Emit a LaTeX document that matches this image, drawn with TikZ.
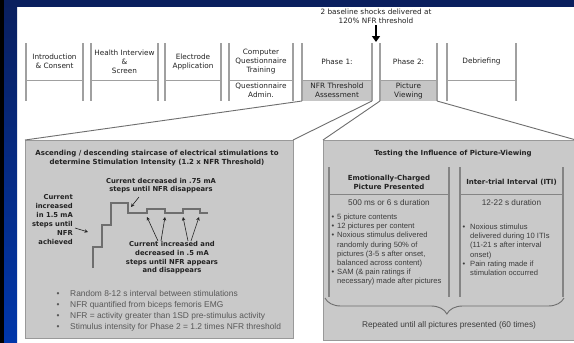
\documentclass[tikz,border=0pt]{standalone}
\usepackage{fontspec}
\setmainfont{DejaVu Sans}
\newfontfamily\arialf{Liberation Sans}
\usetikzlibrary{arrows.meta,decorations.pathreplacing}
\definecolor{navy}{HTML}{0A1F5E}
\definecolor{slideblue}{HTML}{0036AA}
\definecolor{panelgray}{HTML}{C9C9C9}
\definecolor{cellgray}{HTML}{C6C6C6}
\definecolor{linegray}{HTML}{A0A0A0}
\definecolor{darkline}{HTML}{6E6E6E}
\definecolor{txt}{HTML}{222222}
\definecolor{bultxt}{HTML}{585858}
\definecolor{regtxt}{HTML}{3C3C3C}
\newcommand\bl[1]{\makebox[#1][l]{•}}
\begin{document}
\begin{tikzpicture}[x=1pt,y=-1pt,
  cell/.style={inner sep=0pt,outer sep=0pt,draw=none,align=center,
    font=\fontsize{7.3}{9}\selectfont,text=txt},
  toptxt/.style={inner sep=0pt,align=center,font=\fontsize{7.3}{9}\selectfont,text=txt},
  vline/.style={draw=linegray,line width=1.4pt},
  hline/.style={draw=linegray,line width=1pt},
  panel/.style={fill=panelgray,draw=darkline!70,line width=0.7pt,inner sep=0pt,outer sep=0pt},
  callout/.style={draw=darkline,line width=0.9pt},
  boldtxt/.style={inner sep=0pt,align=center,font=\fontsize{7}{9}\selectfont\bfseries,text=txt},
  bultext/.style={inner sep=0pt,anchor=base west,text=bultxt},
  regtext/.style={inner sep=0pt,align=center,text=regtxt,font=\arialf\fontsize{8.2}{10}\selectfont},
  stair/.style={draw=darkline,line width=1.2pt},
  smallarrow/.style={draw=txt,line width=0.6pt,-{Stealth[length=3.5pt,width=3.5pt]}},
  bigarrow/.style={draw=black,line width=2.2pt,-{Triangle[length=6pt,width=8pt]}},
  subline/.style={draw=darkline!85,line width=1.3pt},
  bracestyle/.style={draw=darkline,line width=0.9pt,decorate,
    decoration={brace,mirror,amplitude=16pt,aspect=0.51}}
]
\useasboundingbox (0,0) rectangle (574,343);
% slide background
\fill[white] (0,0) rectangle (574,343);
\shade[top color=navy,bottom color=slideblue] (4,0) rectangle (17,343);
\fill[navy] (0,0) rectangle (574,7);
\fill[black] (0,0) rectangle (4,343);

% timeline cells
\node[cell,minimum width=57pt,minimum height=37pt] (u1) at (54.5,61.5) {Introduction\\\& Consent};
\node[cell,minimum width=57pt,minimum height=21pt] (l1) at (54.5,90.5) {};
\node[cell,minimum width=67pt,minimum height=37pt] (u2) at (124.5,61.5) {Health Interview\\\&\\Screen};
\node[cell,minimum width=67pt,minimum height=21pt] (l2) at (124.5,90.5) {};
\node[cell,minimum width=56pt,minimum height=37pt] (u3) at (193,61.5) {Electrode\\Application};
\node[cell,minimum width=56pt,minimum height=21pt] (l3) at (193,90.5) {};
\node[cell,minimum width=64pt,minimum height=37pt] (u4) at (261,61.5) {Computer\\Questionnaire\\Training};
\node[cell,minimum width=64pt,minimum height=21pt] (l4) at (261,90.5) {Questionnaire\\Admin.};
\node[cell,minimum width=70pt,minimum height=37pt] (u5) at (337,61.5) {Phase 1:};
\node[cell,fill=cellgray,minimum width=70pt,minimum height=21pt] (l5) at (337,90.5) {NFR Threshold\\Assessment};
\node[cell,minimum width=57pt,minimum height=37pt] (u6) at (408.5,61.5) {Phase 2:};
\node[cell,fill=cellgray,minimum width=57pt,minimum height=21pt] (l6) at (408.5,90.5) {Picture\\Viewing};
\node[cell,minimum width=69pt,minimum height=37pt] (u7) at (481.5,61.5) {Debriefing};
\node[cell,minimum width=69pt,minimum height=21pt] (l7) at (481.5,90.5) {};
\foreach \i in {1,...,7}{
  \draw[vline] (u\i.north west) -- (l\i.south west);
  \draw[vline] (u\i.north east) -- (l\i.south east);
  \draw[hline] (u\i.south west) -- (u\i.south east);
}

% baseline shocks arrow
\node[toptxt] (shock) at (376,16.5) {2 baseline shocks delivered at\\120\% NFR threshold};
\coordinate (gap) at (376,42);
\draw[bigarrow] ([yshift=-1pt]shock.south) -- (gap);

% panels
\node[panel,minimum width=268pt,minimum height=198pt] (lp) at (159,239) {};
\node[panel,minimum width=253pt,minimum height=200pt] (rp) at (449.5,240) {};

% callout lines
\draw[callout] (l5.south west) -- (lp.north west);
\draw[callout] (l5.south east) -- (lp.north east);
\draw[callout] (l6.south west) -- (rp.north west);
\draw[callout] (l6.south east) -- (rp.north east);

% left panel
\node[boldtxt] (lt) at (157,158) {Ascending / descending staircase of electrical stimulations to\\determine Stimulation Intensity (1.2 x NFR Threshold)};
\node[boldtxt,font=\fontsize{6.8}{8}\selectfont\bfseries] (dec) at (161,186) {Current decreased in .75 mA\\steps until NFR disappears};
\node[boldtxt,font=\fontsize{6.8}{9}\selectfont\bfseries,align=right,anchor=east] (inc) at (73,219.5) {Current\\increased\\in 1.5 mA\\steps until\\NFR\\achieved};
\node[boldtxt,font=\fontsize{6.8}{8.7}\selectfont\bfseries] (incdec) at (172,258) {Current increased and\\decreased in .5 mA\\steps until NFR appears\\and disappears};

\draw[stair] (93,268) -- (93,247) -- (102,247) -- (102,225) -- (111,225) -- (111,203)
  -- (128,203) -- (128,213) -- (147,213) -- (147,209) -- (165,209) -- (165,213)
  -- (183,213) -- (183,209) -- (200,209) -- (200,213) -- (208,213);

\coordinate (a1s) at (75,228);
\coordinate (a1e) at (88,232);
\draw[smallarrow] (a1s) -- (a1e);
\coordinate (a2s) at (139,197);
\coordinate (a2e) at (131,207);
\draw[smallarrow] (a2s) -- (a2e);
\coordinate (t1) at (158,241); \coordinate (t2) at (161,241);
\coordinate (t3) at (188,241); \coordinate (t4) at (191,241);
\coordinate (h1) at (147,217); \coordinate (h2) at (165,217);
\coordinate (h3) at (183,217); \coordinate (h4) at (199,217);
\draw[smallarrow] (t1) -- (h1);
\draw[smallarrow] (t2) -- (h2);
\draw[smallarrow] (t3) -- (h3);
\draw[smallarrow] (t4) -- (h4);

\node[bultext,font=\arialf\fontsize{8.4}{11}\selectfont] (lb) at (56.5,296) {\begin{tabular}[t]{@{}l@{}}
\bl{13.5pt}Random 8-12 s interval between stimulations\\
\bl{13.5pt}NFR quantified from biceps femoris EMG\\
\bl{13.5pt}NFR = activity greater than 1SD pre-stimulus activity\\
\bl{13.5pt}Stimulus intensity for Phase 2 = 1.2 times NFR threshold
\end{tabular}};

% right panel
\node[boldtxt] (rt) at (453,154) {Testing the Influence of Picture-Viewing};
\node[cell,minimum width=120pt,minimum height=27pt] (eh) at (389,180.5) {};
\node[cell,minimum width=120pt,minimum height=103pt] (eb) at (389,245.5) {};
\node[cell,minimum width=103pt,minimum height=27pt] (ih) at (511.5,180.5) {};
\node[cell,minimum width=103pt,minimum height=103pt] (ib) at (511.5,245.5) {};
\foreach \n/\m in {eh/eb,ih/ib}{
  \draw[subline] (\n.north west) -- (\m.south west);
  \draw[subline] (\n.north east) -- (\m.south east);
  \draw[draw=darkline!85,line width=0.9pt] (\n.south west) -- (\n.south east);
}
\node[boldtxt] (ehT) at (389,182.5) {Emotionally-Charged\\Picture Presented};
\node[boldtxt] (ihT) at (511.5,182) {Inter-trial Interval (ITI)};
\node[regtext] (d1) at (389,203) {500 ms or 6 s duration};
\node[regtext] (d2) at (511.5,203) {12-22 s duration};

\node[bultext,text=regtxt,font=\arialf\fontsize{7.6}{9.1}\selectfont] (eblist) at (331.5,219.7) {\begin{tabular}[t]{@{}l@{}}
\bl{5.5pt}5 picture contents\\
\bl{5.5pt}12 pictures per content\\
\bl{5.5pt}Noxious stimulus delivered\\
\hspace*{5.5pt}randomly during 50\% of\\
\hspace*{5.5pt}pictures (3-5 s after onset,\\
\hspace*{5.5pt}balanced across content)\\
\bl{5.5pt}SAM (\& pain ratings if\\
\hspace*{5.5pt}necessary) made after pictures
\end{tabular}};
\node[bultext,text=regtxt,font=\arialf\fontsize{7.6}{9.1}\selectfont] (iblist) at (462.5,229.7) {\begin{tabular}[t]{@{}l@{}}
\bl{7.5pt}Noxious stimulus\\
\hspace*{7.5pt}delivered during 10 ITIs\\
\hspace*{7.5pt}(11-21 s after interval\\
\hspace*{7.5pt}onset)\\
\bl{7.5pt}Pain rating made if\\
\hspace*{7.5pt}stimulation occurred
\end{tabular}};

\draw[bracestyle] (325,298) -- (564,298);
\node[regtext,font=\arialf\fontsize{8.3}{10}\selectfont] (rep) at (449,325) {Repeated until all pictures presented (60 times)};
\end{tikzpicture}
\end{document}
